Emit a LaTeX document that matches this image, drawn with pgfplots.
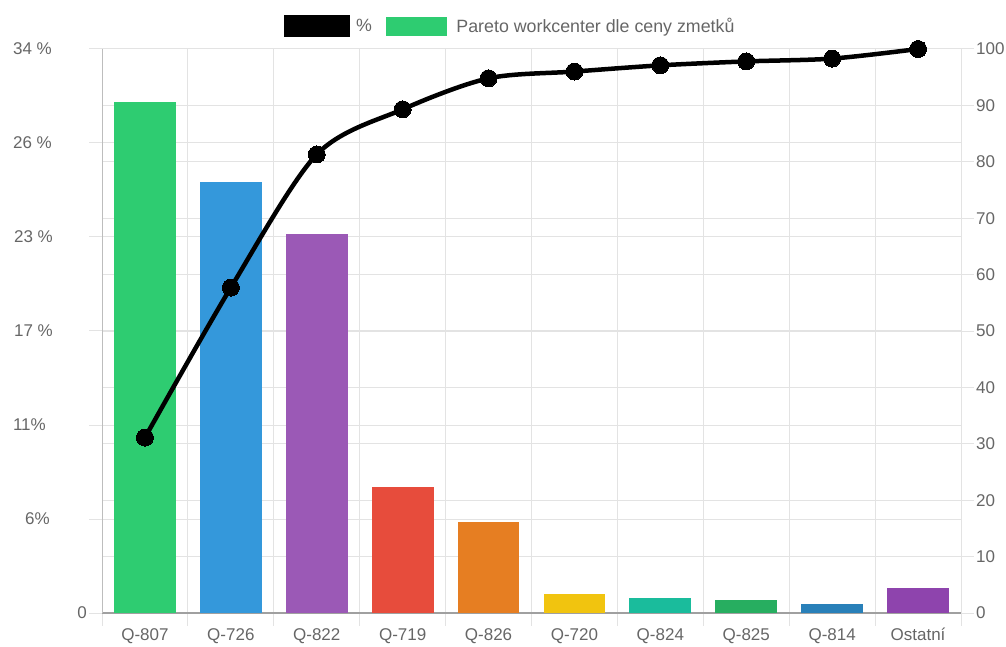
\documentclass[border=0pt]{standalone}
\usepackage{fontspec}
\setmainfont{Liberation Sans}
\usepackage{pgfplots}
\pgfplotsset{compat=1.18}

\definecolor{cQ807}{HTML}{2ECC71}
\definecolor{cQ726}{HTML}{3498DB}
\definecolor{cQ822}{HTML}{9B59B6}
\definecolor{cQ719}{HTML}{E74C3C}
\definecolor{cQ826}{HTML}{E67E22}
\definecolor{cQ720}{HTML}{F1C40F}
\definecolor{cQ824}{HTML}{1ABC9C}
\definecolor{cQ825}{HTML}{27AE60}
\definecolor{cQ814}{HTML}{2980B9}
\definecolor{cOst}{HTML}{8E44AD}
\definecolor{gridgray}{HTML}{E3E3E3}
\definecolor{leftgray}{HTML}{BDBDBD}
\definecolor{axisgray}{HTML}{A0A0A0}
\definecolor{labelgray}{HTML}{666666}

\newcommand\lbl{\fontsize{17}{20}\selectfont}
\newcommand\leglbl{\fontsize{17.8}{21}\selectfont}

\pgfplotsset{
  set layers,
  paretobase/.style={
    width=859pt, height=564pt, scale only axis,
    xmin=-0.5, xmax=9.5,
    tick align=outside,
    major tick length=13pt,
    tick style={color=gridgray, line width=1pt},
    grid style={color=gridgray, line width=1pt},
    tick label style={font=\lbl, text=labelgray, inner sep=2pt},
    /pgf/number format/assume math mode=true,
  },
}

\begin{document}
\begin{tikzpicture}
% share of each workcenter (left axis, percent)
\begin{axis}[paretobase,
  ymin=0, ymax=34.8,
  axis x line*=bottom, axis y line*=left,
  x axis line style={color=axisgray, line width=1.2pt, -},
  y axis line style={color=leftgray, line width=1pt, -},
  xtick={-0.5,0.5,1.5,2.5,3.5,4.5,5.5,6.5,7.5,8.5,9.5},
  xticklabels={Q-807,Q-726,Q-822,Q-719,Q-826,Q-720,Q-824,Q-825,Q-814,Ostatní,{}},
  xticklabel style={xshift=42.95pt},
  xmajorgrids,
  ytick={0,5.8,11.6,17.4,23.2,29,34.8},
  yticklabels={0,
    6\%\hspace*{37pt},
    11\%\hspace*{41pt},
    17 \%\hspace*{34pt},
    23 \%\hspace*{34pt},
    26 \%\hspace*{35pt},
    34 \%\hspace*{35pt}},
  ymajorgrids,
  bar width=0.72,
]
\coordinate (O) at (rel axis cs:0,0);
\addplot[ybar, bar shift=0pt, fill=cQ807, draw=none] coordinates {(0,31.5)};
\addplot[ybar, bar shift=0pt, fill=cQ726, draw=none] coordinates {(1,26.6)};
\addplot[ybar, bar shift=0pt, fill=cQ822, draw=none] coordinates {(2,23.4)};
\addplot[ybar, bar shift=0pt, fill=cQ719, draw=none] coordinates {(3,7.76)};
\addplot[ybar, bar shift=0pt, fill=cQ826, draw=none] coordinates {(4,5.64)};
\addplot[ybar, bar shift=0pt, fill=cQ720, draw=none] coordinates {(5,1.17)};
\addplot[ybar, bar shift=0pt, fill=cQ824, draw=none] coordinates {(6,0.91)};
\addplot[ybar, bar shift=0pt, fill=cQ825, draw=none] coordinates {(7,0.80)};
\addplot[ybar, bar shift=0pt, fill=cQ814, draw=none] coordinates {(8,0.54)};
\addplot[ybar, bar shift=0pt, fill=cOst,  draw=none] coordinates {(9,1.56)};
\end{axis}

% cumulative share (right axis)
\begin{axis}[paretobase,
  ymin=0, ymax=100,
  axis x line=none, xtick=\empty,
  axis y line*=right,
  y axis line style={color=gridgray, line width=1pt, -},
  ytick={0,10,...,100},
  yticklabel style={anchor=west},
  ymajorgrids,
  legend columns=-1,
  legend style={at={(0.4751,1)}, anchor=center, yshift=23pt,
    draw=none, fill=none, font=\leglbl, text=labelgray},
]
\addplot[black, line width=4.5pt, smooth, tension=0.5,
  mark=*, mark size=8.5pt, mark options={solid, fill=black, line width=0pt},
  legend image code/.code={\fill[black] (0pt,-9pt) rectangle (62pt,9pt);}]
  coordinates {(0,31.1) (1,57.7) (2,81.3) (3,89.3) (4,94.8)
               (5,96.0) (6,97.1) (7,97.8) (8,98.3) (9,100)};
\addlegendentry{\hspace*{4pt}\%\hspace*{12pt}}
\addlegendimage{legend image code/.code={\fill[cQ807] (0pt,-9pt) rectangle (60pt,9pt);}}
\addlegendentry{\hspace*{8pt}Pareto workcenter dle ceny zmetků}
\end{axis}

\pgfresetboundingbox
\path[use as bounding box] ([shift={(-102pt,-33pt)}]O) rectangle ([shift={(904pt,613pt)}]O);
\end{tikzpicture}
\end{document}
